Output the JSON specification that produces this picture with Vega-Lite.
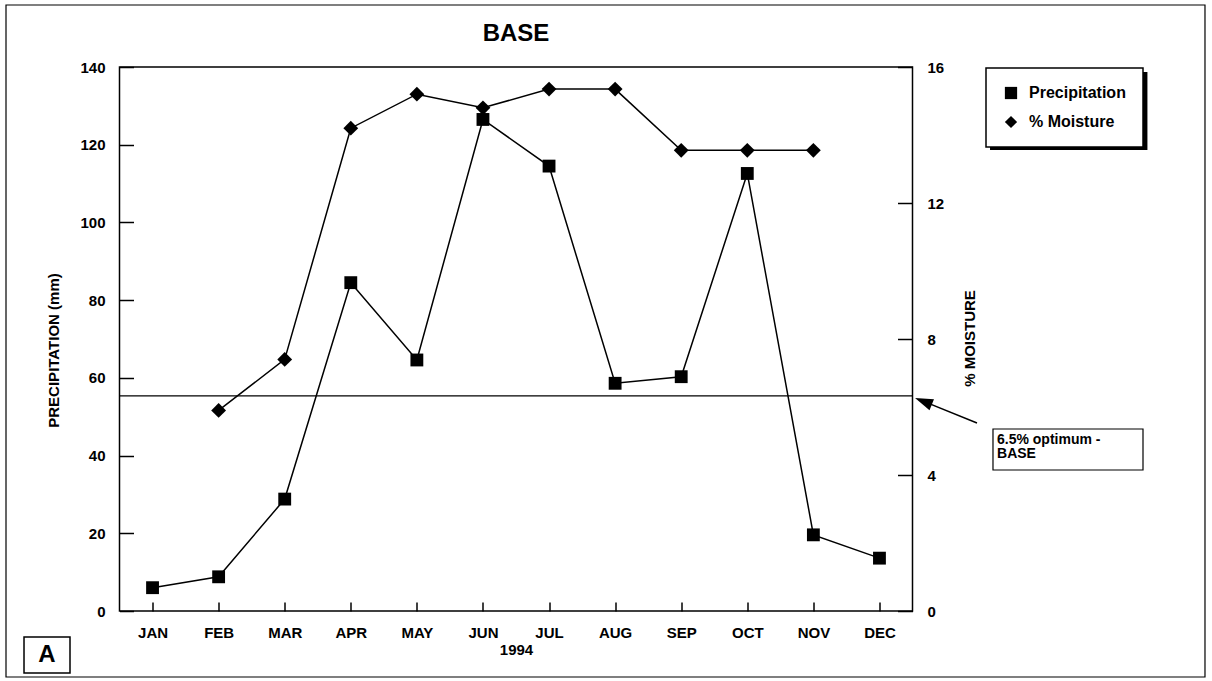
{
  "$schema": "https://vega.github.io/schema/vega-lite/v6.json",
  "width": 793,
  "height": 544,
  "autosize": {"type": "none"},
  "padding": {"left": 119.5, "top": 67, "right": 299.5, "bottom": 70},
  "background": "white",
  "config": {
    "font": "Liberation Sans",
    "view": {"stroke": "black", "strokeWidth": 1.5},
    "legend": {"strokeWidth": 1.5},
    "axis": {"labelFont": "Liberation Sans", "labelFontWeight": "bold", "labelFontSize": 15, "labelColor": "black", "titleFont": "Liberation Sans", "titleFontWeight": "bold", "titleFontSize": 15, "titleColor": "black", "tickColor": "black", "tickWidth": 1.5, "grid": false, "domain": false, "labelFlush": false, "labelOverlap": false}
  },
  "data": {"values": [
    {"m": 1, "month": "JAN", "precip": 6.0, "moisture": null},
    {"m": 2, "month": "FEB", "precip": 8.8, "moisture": 5.9},
    {"m": 3, "month": "MAR", "precip": 28.8, "moisture": 7.4},
    {"m": 4, "month": "APR", "precip": 84.5, "moisture": 14.2},
    {"m": 5, "month": "MAY", "precip": 64.6, "moisture": 15.2},
    {"m": 6, "month": "JUN", "precip": 126.5, "moisture": 14.8},
    {"m": 7, "month": "JUL", "precip": 114.5, "moisture": 15.35},
    {"m": 8, "month": "AUG", "precip": 58.6, "moisture": 15.35},
    {"m": 9, "month": "SEP", "precip": 60.3, "moisture": 13.55},
    {"m": 10, "month": "OCT", "precip": 112.6, "moisture": 13.55},
    {"m": 11, "month": "NOV", "precip": 19.6, "moisture": 13.55},
    {"m": 12, "month": "DEC", "precip": 13.6, "moisture": null}
  ]},
  "layer": [
    {
      "data": {"values": [{}]},
      "layer": [
        {"mark": {"type": "rect", "filled": false, "color": "black", "strokeWidth": 1.2},
         "encoding": {
           "x": {"datum": -1.2175, "type": "quantitative"}, "x2": {"datum": 16.926},
           "y": {"datum": 17.824, "type": "quantitative", "scale": {"domain": [0, 16], "nice": false, "zero": false}, "axis": null}, "y2": {"datum": -1.941}}},
        {"mark": {"type": "text", "text": "BASE", "font": "Liberation Sans", "fontWeight": "bold", "fontSize": 24, "color": "black", "align": "center", "baseline": "alphabetic"},
         "encoding": {
           "x": {"datum": 6.5, "type": "quantitative"},
           "y": {"datum": 16.765, "type": "quantitative"}}},
        {"mark": {"type": "rect", "color": "black"},
         "encoding": {
           "x": {"datum": 13.673, "type": "quantitative"}, "x2": {"datum": 16.055},
           "y": {"datum": 15.853, "type": "quantitative"}, "y2": {"datum": 13.559}}},
        {"mark": {"type": "rect", "filled": false, "color": "black", "strokeWidth": 1.2},
         "encoding": {
           "x": {"datum": 13.718, "type": "quantitative"}, "x2": {"datum": 15.988},
           "y": {"datum": 5.353, "type": "quantitative"}, "y2": {"datum": 4.147}}},
        {"mark": {"type": "rect", "filled": false, "color": "black", "strokeWidth": 1.5},
         "encoding": {
           "x": {"datum": -0.945, "type": "quantitative"}, "x2": {"datum": -0.249},
           "y": {"datum": -0.765, "type": "quantitative"}, "y2": {"datum": -1.824}}},
        {"mark": {"type": "text", "text": "A", "font": "Liberation Sans", "fontWeight": "bold", "fontSize": 24, "color": "black", "align": "center", "baseline": "middle"},
         "encoding": {
           "x": {"datum": -0.597, "type": "quantitative"},
           "y": {"datum": -1.294, "type": "quantitative"}}},
        {"mark": {"type": "text", "text": ["6.5% optimum -", "BASE"], "font": "Liberation Sans", "fontWeight": "bold", "fontSize": 14, "lineHeight": 14, "color": "black", "align": "left", "baseline": "top"},
         "encoding": {
           "x": {"datum": 13.779, "type": "quantitative"},
           "y": {"datum": 5.25, "type": "quantitative"}}},
        {"mark": {"type": "rule", "color": "black", "strokeWidth": 1.3},
         "encoding": {"y": {"datum": 6.33, "type": "quantitative"}}},
        {"mark": {"type": "rule", "color": "black", "strokeWidth": 1.5},
         "encoding": {
           "x": {"datum": 13.476, "type": "quantitative"}, "x2": {"datum": 12.65},
           "y": {"datum": 5.529, "type": "quantitative"}, "y2": {"datum": 6.18}}},
        {"mark": {"type": "point", "shape": "M0,-1L-0.6,0.8L0.6,0.8Z", "filled": true, "color": "black", "opacity": 1, "size": 400, "angle": 292},
         "encoding": {
           "x": {"datum": 12.679, "type": "quantitative"},
           "y": {"datum": 6.156, "type": "quantitative"}}}
      ]
    },
    {
      "layer": [
        {"mark": {"type": "line", "color": "black", "strokeWidth": 1.5},
         "encoding": {
           "x": {"field": "m", "type": "quantitative",
                 "scale": {"domain": [0.5, 12.5], "nice": false, "zero": false},
                 "axis": {"values": [1,2,3,4,5,6,7,8,9,10,11,12],
                          "labelExpr": "['JAN','FEB','MAR','APR','MAY','JUN','JUL','AUG','SEP','OCT','NOV','DEC'][datum.value-1]",
                          "tickSize": -9, "labelPadding": 23, "title": "1994", "titleBaseline": "top", "titleY": 31}},
           "y": {"field": "precip", "type": "quantitative",
                 "scale": {"domain": [0, 140], "nice": false},
                 "axis": {"orient": "left", "values": [0,20,40,60,80,100,120,140], "tickSize": -14, "labelPadding": 28.5,
                          "title": "PRECIPITATION (mm)", "titleAngle": 270, "titleX": -61, "titleY": 283, "titleBaseline": "alphabetic"}}}},
        {"mark": {"type": "point", "filled": true, "color": "black", "opacity": 1, "size": 165},
         "encoding": {
           "x": {"field": "m", "type": "quantitative"},
           "y": {"field": "precip", "type": "quantitative"},
           "shape": {"datum": "Precipitation", "type": "nominal",
                     "scale": {"domain": ["Precipitation", "% Moisture"], "range": ["square", "diamond"]},
                     "legend": {"orient": "none", "legendX": 866.5, "legendY": 1, "title": null, "padding": 17,
                                "strokeColor": "black", "fillColor": "white", "labelFont": "Liberation Sans",
                                "labelFontWeight": "bold", "labelFontSize": 16, "labelColor": "black",
                                "symbolFillColor": "black", "symbolStrokeWidth": 0, "symbolSize": 150,
                                "labelOffset": 10, "rowPadding": 13, "cornerRadius": 0, "zindex": 1}}}}
      ]
    },
    {
      "transform": [{"filter": "datum.moisture != null"}],
      "layer": [
        {"mark": {"type": "line", "color": "black", "strokeWidth": 1.5},
         "encoding": {
           "x": {"field": "m", "type": "quantitative"},
           "y": {"field": "moisture", "type": "quantitative",
                 "scale": {"domain": [0, 16], "nice": false},
                 "axis": {"orient": "right", "values": [0,4,8,12,16], "tickSize": -15, "labelPadding": 29.5,
                          "title": "% MOISTURE", "titleAngle": 270, "titleX": 61.5, "titleY": 271, "titleBaseline": "alphabetic"}}}},
        {"mark": {"type": "point", "filled": true, "color": "black", "opacity": 1, "size": 220},
         "encoding": {
           "x": {"field": "m", "type": "quantitative"},
           "y": {"field": "moisture", "type": "quantitative"},
           "shape": {"datum": "% Moisture", "type": "nominal"}}}
      ]
    }
  ],
  "resolve": {"scale": {"y": "independent"}, "axis": {"y": "independent"}}
}
